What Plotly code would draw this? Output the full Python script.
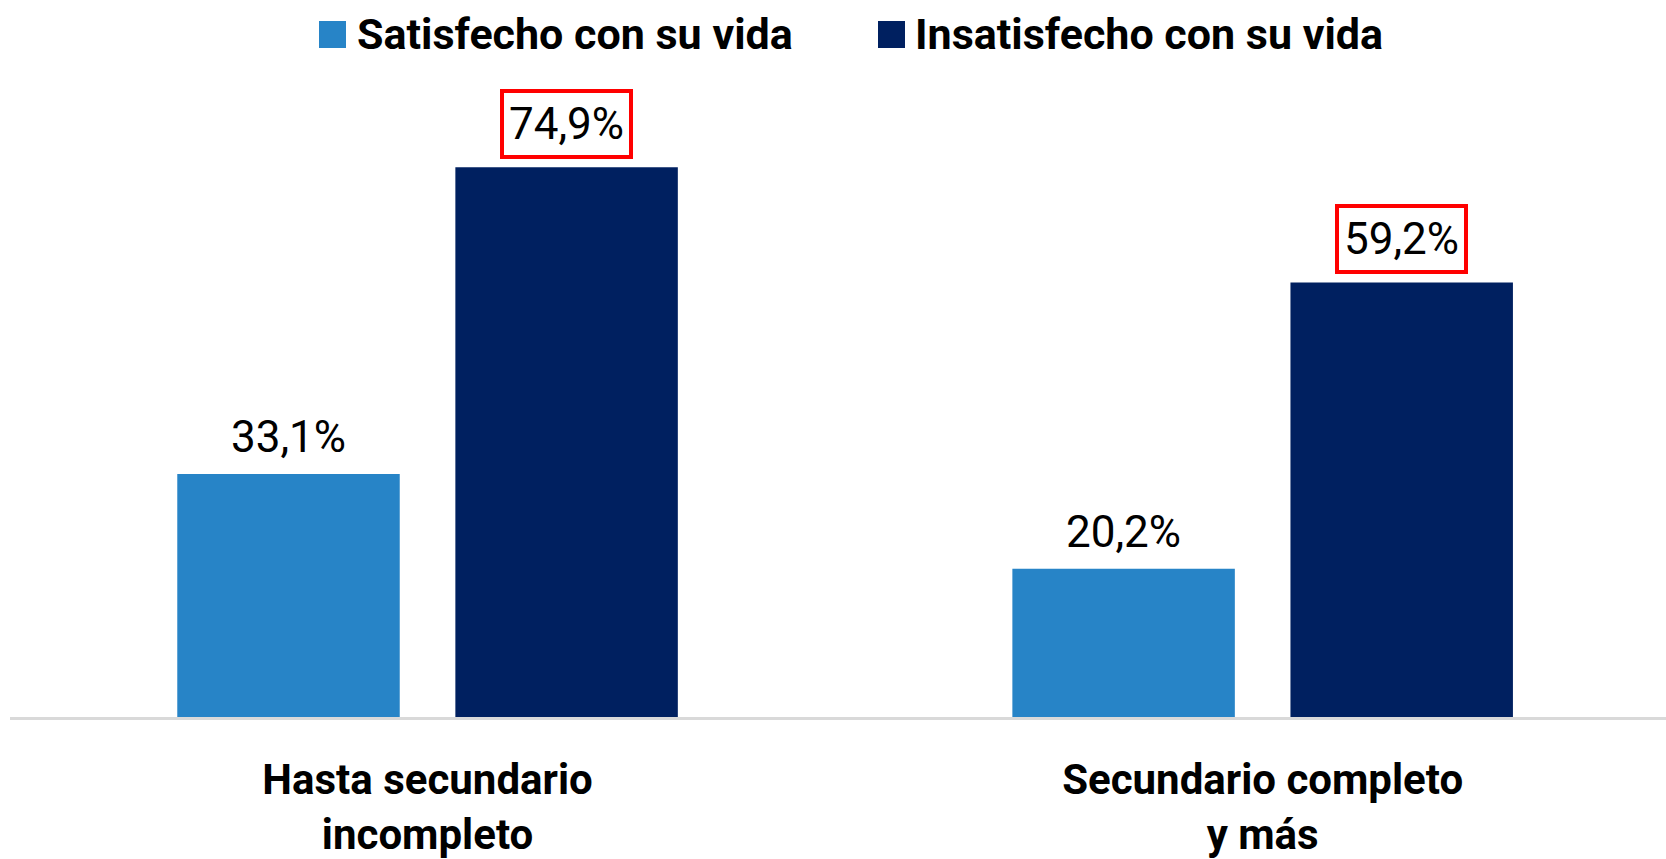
import plotly.graph_objects as go

categories = ["Hasta secundario<br>incompleto", "Secundario completo<br>y más"]
satisfecho = [33.1, 20.2]
insatisfecho = [74.9, 59.2]
series_names = ["Satisfecho con su vida", "Insatisfecho con su vida"]
highlight = [False, True]  # only the 'insatisfecho' series is boxed

LIGHT = "#2784C7"
DARK = "#002060"
FONT = "Roboto, Liberation Sans, sans-serif"

fig = go.Figure()
fig.add_trace(go.Bar(x=categories, y=satisfecho, name=series_names[0],
                     marker=dict(color=LIGHT, line=dict(width=0)), showlegend=False))
fig.add_trace(go.Bar(x=categories, y=insatisfecho, name=series_names[1],
                     marker=dict(color=DARK, line=dict(width=0)), showlegend=False))

annotations = []
offset = 0.1665
for si, vals in enumerate([satisfecho, insatisfecho]):
    for ci, v in enumerate(vals):
        xpos = ci + (-offset if si == 0 else offset)
        txt = f"{v:.1f}%".replace(".", ",")
        if highlight[si]:
            annotations.append(dict(x=xpos, y=v, xref="x", yref="y", text=txt,
                                    showarrow=False, yanchor="middle", yshift=43,
                                    font=dict(family=FONT, size=44, color="black"),
                                    bordercolor="#FF0000", borderwidth=4, borderpad=5,
                                    bgcolor="white"))
        else:
            annotations.append(dict(x=xpos, y=v, xref="x", yref="y", text=txt,
                                    showarrow=False, yanchor="middle", yshift=37,
                                    font=dict(family=FONT, size=44, color="black")))

# manual legend (large square swatches)
W, H = 1666, 859
ml, mr, mt, mb = 10, 0, 93, 142
pw, ph = W - ml - mr, H - mt - mb
def px(x):
    return (x - ml) / pw
def py(y):
    return (H - mb - y) / ph

shapes = []
legend_items = [(319, 358, LIGHT), (878, 916, DARK)]
for (sx, tx, col), name in zip(legend_items, series_names):
    shapes.append(dict(type="rect", xref="paper", yref="paper",
                       x0=px(sx), x1=px(sx + 27), y0=py(48), y1=py(21),
                       fillcolor=col, line=dict(width=0)))
    annotations.append(dict(x=px(tx - 3), y=py(34), xref="paper", yref="paper",
                            text=f"<b>{name}</b>", showarrow=False,
                            xanchor="left", yanchor="middle",
                            font=dict(family=FONT, size=43, color="black")))

fig.update_layout(
    width=W, height=H,
    margin=dict(l=ml, r=mr, t=mt, b=mb, autoexpand=False),
    plot_bgcolor="white", paper_bgcolor="white",
    barmode="group", bargap=0.334, bargroupgap=0.2,
    annotations=annotations, shapes=shapes,
    xaxis=dict(range=[-0.5, 1.483], showline=True, linecolor="#D9D9D9", linewidth=3,
               ticks="", showgrid=False, automargin=False,
               tickfont=dict(family=FONT, size=42, color="black"),
               ticklabelstandoff=24),
    yaxis=dict(range=[0, 85], visible=False, showgrid=False, automargin=False),
)
fig.update_xaxes(tickvals=categories,
                 ticktext=[f"<b>{c}</b>".replace("<br>", "</b><br><b>") for c in categories])

fig.write_html("out.html", config={"displayModeBar": False},
               post_script="document.body.style.margin='0';")
